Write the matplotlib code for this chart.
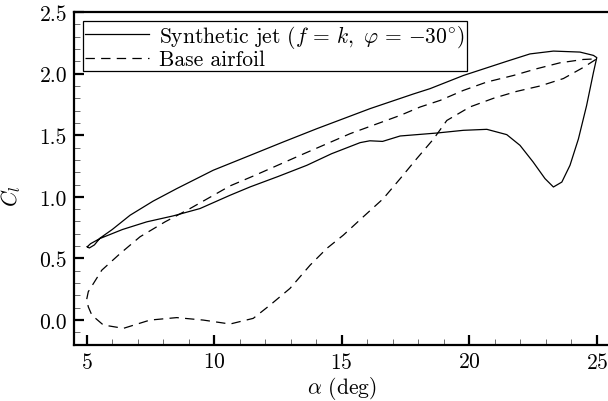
import matplotlib
matplotlib.use("Agg")
import matplotlib.pyplot as plt
from matplotlib.ticker import MultipleLocator

# ---- DATA ----
# synthetic jet loop, traced around from the left tip
jet_alpha = [5.02, 5.10, 5.30, 5.52, 6.00, 6.70, 7.60, 8.53, 9.96, 11.41, 12.70,
             14.02, 16.11, 17.81, 18.46, 19.77, 21.47, 22.38, 23.30, 24.34,
             24.87, 25.00, 24.87, 24.60, 24.28, 23.95, 23.63, 23.30, 22.97,
             22.50, 21.99, 21.47, 20.69, 19.77, 18.73, 17.29, 16.60, 16.10,
             15.72, 14.60, 13.63, 12.50, 11.41, 10.62, 9.44, 8.40, 7.35, 6.40,
             5.52, 5.15, 5.02]
jet_cl = [0.595, 0.585, 0.610, 0.665, 0.735, 0.851, 0.965, 1.067, 1.216, 1.337,
          1.445, 1.553, 1.716, 1.835, 1.878, 1.985, 2.100, 2.160, 2.183, 2.175,
          2.148, 2.130, 2.010, 1.740, 1.470, 1.256, 1.120, 1.080, 1.148,
          1.284, 1.418, 1.505, 1.548, 1.540, 1.518, 1.494, 1.450, 1.455,
          1.440, 1.350, 1.256, 1.165, 1.081, 1.013, 0.905, 0.846, 0.797, 0.735,
          0.662, 0.620, 0.595]

# base airfoil loop
base_alpha = [5.00, 5.06, 5.59, 6.31, 7.09, 8.07, 9.05, 10.62, 11.60, 13.37,
              15.33, 17.29, 18.07, 18.86, 19.77, 20.69, 21.73, 22.65, 23.56,
              24.47, 25.00, 24.47, 23.69, 22.78, 21.86, 20.95, 20.03, 19.12,
              18.60, 17.94, 17.30, 16.63, 15.80, 15.06, 14.41, 13.76, 12.97,
              12.19, 11.53, 10.62, 9.57, 8.53, 7.48, 6.44, 5.65, 5.20, 5.06, 5.00]
base_cl = [0.170, 0.230, 0.405, 0.540, 0.676, 0.797, 0.905, 1.089, 1.175, 1.337,
           1.513, 1.661, 1.729, 1.783, 1.864, 1.932, 1.985, 2.040, 2.088,
           2.115, 2.120, 2.050, 1.960, 1.900, 1.856, 1.800, 1.730, 1.620,
           1.470, 1.310, 1.150, 0.986, 0.830, 0.689, 0.581, 0.446, 0.257,
           0.122, 0.014, -0.032, 0.000, 0.020, 0.000, -0.067, -0.040, 0.040,
           0.108, 0.170]

jet_label = r"Synthetic jet $(f\,=\,k,\ \varphi\,=\,{-}30^{\circ})$"
base_label = "Base airfoil"

FS = 15.5

# ---- STYLE ----
plt.rcParams["font.family"] = "cmr10"
plt.rcParams["mathtext.fontset"] = "cm"
plt.rcParams["axes.formatter.use_mathtext"] = True
plt.rcParams["font.size"] = FS

fig = plt.figure(figsize=(6.08, 4.02), dpi=100)
ax = fig.add_axes([0.1217, 0.140, 0.8808, 0.8276])

ax.plot(jet_alpha, jet_cl, color="black", linewidth=0.9, label=jet_label)
ax.plot(base_alpha, base_cl, color="black", linewidth=0.9,
        linestyle=(0, (7.5, 5)), label=base_label)

ax.set_xlim(4.5, 25.5)
ax.set_ylim(-0.2, 2.5)
ax.xaxis.set_major_locator(MultipleLocator(5))
ax.xaxis.set_minor_locator(MultipleLocator(1))
ax.yaxis.set_major_locator(MultipleLocator(0.5))
ax.yaxis.set_minor_locator(MultipleLocator(0.1))
ax.yaxis.set_major_formatter(plt.FormatStrFormatter("%.1f"))

ax.tick_params(which="major", direction="in", length=7.5, width=1.6,
               labelsize=FS, pad=5)
ax.tick_params(which="minor", direction="in", length=4.5, width=0.6,
               color="#555555")
ax.tick_params(axis="x", which="both", top=False)
ax.tick_params(axis="y", which="both", right=False)

for side in ["left", "bottom", "top"]:
    ax.spines[side].set_linewidth(1.6)
ax.spines["right"].set_visible(False)

ax.set_xlabel(r"$\alpha$ (deg)", fontsize=FS, labelpad=2)
ax.set_ylabel(r"$C_l$", fontsize=FS)
ax.yaxis.set_label_coords(-0.095, 0.45)

leg = ax.legend(loc="upper left", fontsize=15.5, handlelength=3.0,
                handletextpad=0.45, labelspacing=0.0, borderpad=0.1,
                borderaxespad=0.4, fancybox=False, framealpha=1)
leg.get_frame().set_edgecolor("black")
leg.get_frame().set_linewidth(0.9)

fig.savefig("out.png", dpi=100)
